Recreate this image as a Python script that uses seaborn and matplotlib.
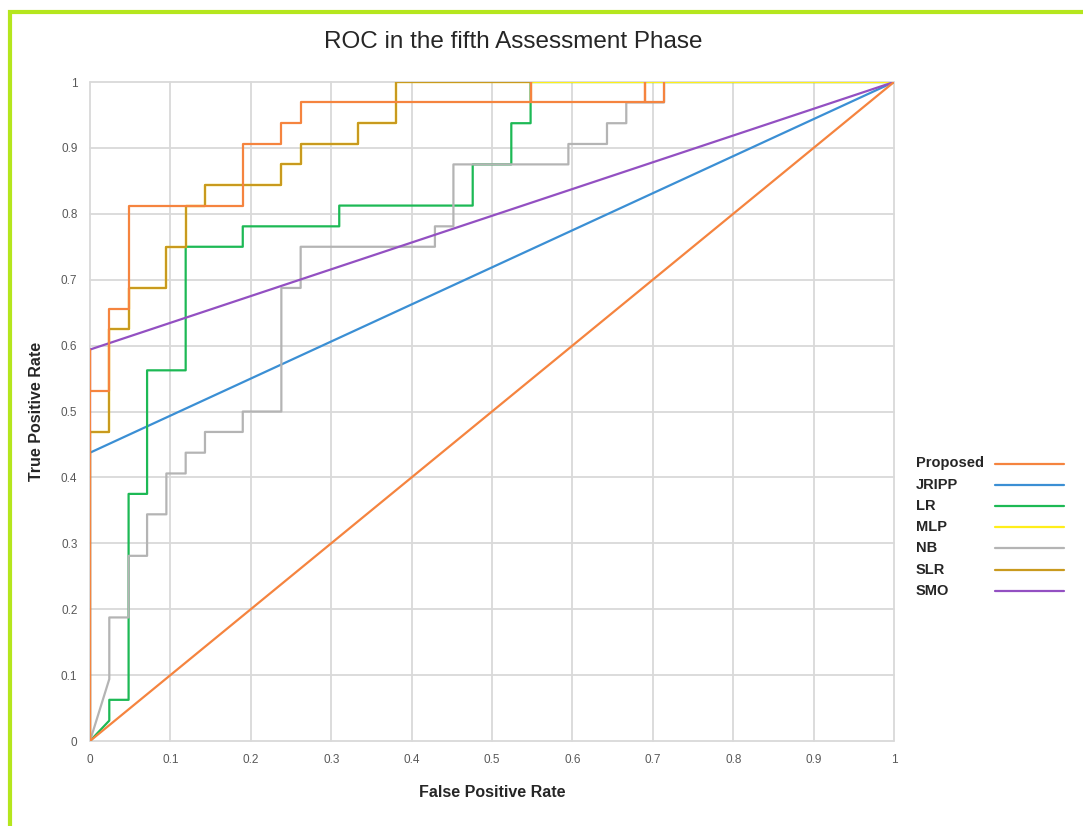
import numpy as np
import pandas as pd
import matplotlib
matplotlib.use("Agg")
import matplotlib.pyplot as plt
import seaborn as sns
from matplotlib.lines import Line2D
from matplotlib.patches import Rectangle

# ROC points (fpr, tpr)
proposed_fpr = [0, 0, 0, 0.024, 0.024, 0.048, 0.048, 0.190, 0.190, 0.238, 0.238, 0.262, 0.262,
                0.548, 0.548, 0.548, 0.690, 0.690, 0.690, 0.714, 0.714]
proposed_tpr = [0, 0.594, 0.531, 0.531, 0.656, 0.656, 0.8125, 0.8125, 0.906, 0.906, 0.9375, 0.9375, 0.969,
                0.969, 1, 0.969, 0.969, 1, 0.969, 0.969, 1]

jripp_fpr = [0, 0, 1]
jripp_tpr = [0, 0.4375, 1]

lr_fpr = [0, 0.024, 0.024, 0.048, 0.048, 0.071, 0.071, 0.119, 0.119, 0.190, 0.190, 0.310, 0.310,
          0.476, 0.476, 0.524, 0.524, 0.548, 0.548, 1]
lr_tpr = [0, 0.031, 0.0625, 0.0625, 0.375, 0.375, 0.5625, 0.5625, 0.75, 0.75, 0.781, 0.781, 0.8125,
          0.8125, 0.875, 0.875, 0.9375, 0.9375, 1, 1]

mlp_fpr = [0, 0, 0.024, 0.024, 0.048, 0.048, 0.095, 0.095, 0.119, 0.119, 0.143, 0.143, 0.238, 0.238,
           0.262, 0.262, 0.333, 0.333, 0.381, 0.381, 1]
mlp_tpr = [0, 0.469, 0.469, 0.625, 0.625, 0.6875, 0.6875, 0.75, 0.75, 0.8125, 0.8125, 0.844, 0.844, 0.875,
           0.875, 0.906, 0.906, 0.9375, 0.9375, 1, 1]

nb_fpr = [0, 0.024, 0.024, 0.048, 0.048, 0.071, 0.071, 0.095, 0.095, 0.119, 0.119, 0.143, 0.143,
          0.190, 0.190, 0.238, 0.238, 0.262, 0.262, 0.429, 0.429, 0.452, 0.452, 0.595, 0.595,
          0.643, 0.643, 0.667, 0.667, 0.714, 0.714, 1]
nb_tpr = [0, 0.094, 0.1875, 0.1875, 0.281, 0.281, 0.344, 0.344, 0.406, 0.406, 0.4375, 0.4375, 0.469,
          0.469, 0.5, 0.5, 0.6875, 0.6875, 0.75, 0.75, 0.781, 0.781, 0.875, 0.875, 0.906,
          0.906, 0.9375, 0.9375, 0.969, 0.969, 1, 1]

slr_fpr = [0, 0, 0.024, 0.024, 0.048, 0.048, 0.095, 0.095, 0.119, 0.119, 0.143, 0.143, 0.238, 0.238,
           0.262, 0.262, 0.333, 0.333, 0.381, 0.381, 0.548]
slr_tpr = [0, 0.469, 0.469, 0.625, 0.625, 0.6875, 0.6875, 0.75, 0.75, 0.8125, 0.8125, 0.844, 0.844, 0.875,
           0.875, 0.906, 0.906, 0.9375, 0.9375, 1, 1]

smo_fpr = [0, 0, 1]
smo_tpr = [0, 0.594, 1]

chance_fpr = [0, 1]
chance_tpr = [0, 1]

model_names = ["Proposed", "JRIPP", "LR", "MLP", "NB", "SLR", "SMO"]
model_colors = ["#F5843F", "#3B8FD4", "#1DB955", "#FFEE1A", "#B4B4B4", "#C99A1E", "#9350C2"]
ticks = [0, 0.1, 0.2, 0.3, 0.4, 0.5, 0.6, 0.7, 0.8, 0.9, 1]
tick_labels = ["0", "0.1", "0.2", "0.3", "0.4", "0.5", "0.6", "0.7", "0.8", "0.9", "1"]

sns.set_style("white")
plt.rcParams['font.family'] = ['Liberation Sans', 'DejaVu Sans']

fig = plt.figure(figsize=(10.83, 8.26), dpi=100)
ax = fig.add_axes([0.0831, 0.1029, 0.7424, 0.7978])

curves = {
    "JRIPP": (jripp_fpr, jripp_tpr, 2.0),
    "LR": (lr_fpr, lr_tpr, 2.1),
    "NB": (nb_fpr, nb_tpr, 2.2),
    "MLP": (mlp_fpr, mlp_tpr, 2.3),
    "SLR": (slr_fpr, slr_tpr, 2.4),
    "SMO": (smo_fpr, smo_tpr, 2.5),
    "Proposed": (proposed_fpr, proposed_tpr, 2.6),
}
color_of = dict(zip(model_names, model_colors))
for name, (fx, ty, z) in curves.items():
    df = pd.DataFrame({"fpr": fx, "tpr": ty})
    sns.lineplot(data=df, x="fpr", y="tpr", sort=False, estimator=None, ax=ax,
                 color=color_of[name], linewidth=1.6, zorder=z, legend=False)

# orange reference diagonal
sns.lineplot(x=chance_fpr, y=chance_tpr, sort=False, estimator=None, ax=ax,
             color=color_of["Proposed"], linewidth=1.6, zorder=2.7, legend=False)

ax.set_xlim(0, 1)
ax.set_ylim(0, 1)
ax.set_xticks(ticks)
ax.set_yticks(ticks)
ax.set_xticklabels(tick_labels)
ax.set_yticklabels(tick_labels)
ax.tick_params(length=0, labelsize=8.5, labelcolor="#595959", pad=9)
ax.grid(True, color="#D9D9D9", linewidth=1.3)
for s in ax.spines.values():
    s.set_visible(False)
for gl in ax.get_xgridlines() + ax.get_ygridlines():
    gl.set_clip_on(False)

ax.set_xlabel("False Positive Rate", fontsize=11.5, fontweight="bold", color="#262626", labelpad=14)
ax.set_ylabel("True Positive Rate", fontsize=11.5, fontweight="bold", color="#262626", labelpad=12)
fig.text(0.474, 0.949, "ROC in the fifth Assessment Phase", fontsize=17.5, color="#262626",
         ha="center", va="center")

# legend: label left, line right
for i, name in enumerate(model_names):
    y = 1 - (463.5 + i * 21.2) / 826
    fig.text(916 / 1083, y, name, fontsize=10.5, fontweight="bold", color="#262626",
             ha="left", va="center")
    fig.add_artist(Line2D([995 / 1083, 1064 / 1083], [y, y], color=model_colors[i],
                          linewidth=1.6, transform=fig.transFigure))

# lime border around the chart area
fig.add_artist(Rectangle((9.5 / 1083, -0.1), 1.2, 1.1 - 12.5 / 826, transform=fig.transFigure,
                         fill=False, edgecolor="#B5E61D", linewidth=3))

fig.savefig("out.png", dpi=100, facecolor="white")
